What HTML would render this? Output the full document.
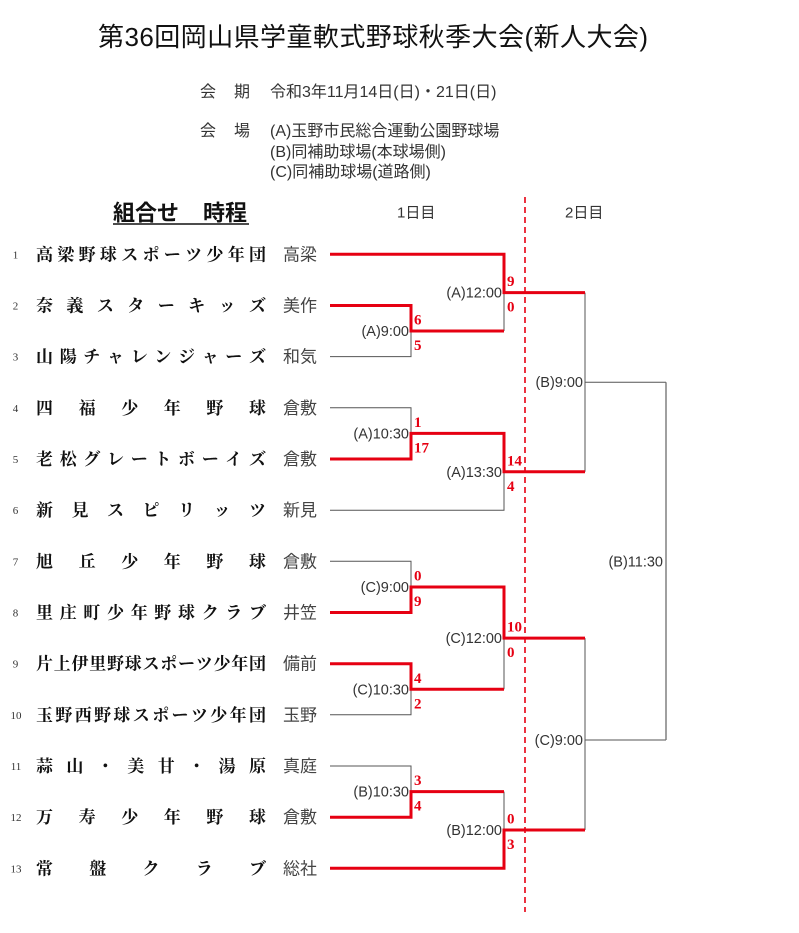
<!DOCTYPE html>
<html>
<head>
<meta charset="utf-8">
<style>
  html,body{margin:0;padding:0;background:#fff;}
  body{width:799px;height:933px;overflow:hidden;}
  svg{display:block;}
  .title{font-family:"Liberation Sans","Noto Sans CJK JP",sans-serif;font-size:26px;fill:#111;}
  .hd{font-family:"Liberation Sans","Noto Sans CJK JP",sans-serif;font-size:16px;fill:#333;}
  .team{font-family:"Liberation Serif","Noto Serif CJK SC",serif;font-size:17px;font-weight:bold;fill:#111;}
  .reg{font-family:"Liberation Sans","Noto Sans CJK JP",sans-serif;font-size:17px;fill:#444;}
  .num{font-family:"Liberation Serif",serif;font-size:11px;fill:#333;}
  .tm{font-family:"Liberation Sans","Noto Sans CJK JP",sans-serif;font-size:14.5px;fill:#333;}
  .sc{font-family:"Liberation Serif",serif;font-size:15px;font-weight:bold;fill:#e60012;}
  .sub{font-family:"Liberation Sans","Noto Sans CJK JP",sans-serif;font-size:22px;font-weight:bold;fill:#111;}
  .day{font-family:"Liberation Sans","Noto Sans CJK JP",sans-serif;font-size:15px;fill:#333;}
</style>
</head>
<body>
<svg width="799" height="933" viewBox="0 0 799 933" xmlns="http://www.w3.org/2000/svg">
  <!-- Title -->
  <text class="title" x="98" y="46" textLength="550" lengthAdjust="spacing">第36回岡山県学童軟式野球秋季大会(新人大会)</text>

  <!-- Header info -->
  <text class="hd" x="200" y="97">会</text>
  <text class="hd" x="234" y="97">期</text>
  <text class="hd" x="270" y="97">令和3年11月14日(日)・21日(日)</text>
  <text class="hd" x="200" y="136">会</text>
  <text class="hd" x="234" y="136">場</text>
  <text class="hd" x="270" y="136">(A)玉野市民総合運動公園野球場</text>
  <text class="hd" x="270" y="157">(B)同補助球場(本球場側)</text>
  <text class="hd" x="270" y="177">(C)同補助球場(道路側)</text>

  <!-- Subheading -->
  <text class="sub" x="113" y="220.5">組合せ</text>
  <text class="sub" x="203" y="220.5">時程</text>
  <line x1="113" y1="224" x2="249" y2="224" stroke="#111" stroke-width="1.5"/>
  <text class="day" x="397" y="217.5">1日目</text>
  <text class="day" x="565" y="217.5">2日目</text>

  <!-- Dashed divider -->
  <line x1="525" y1="197" x2="525" y2="912" stroke="#e60012" stroke-width="1.6" stroke-dasharray="6 4"/>

  <!-- Numbers -->
  <g class="num" text-anchor="middle">
    <text x="15.5" y="258.3">1</text>
    <text x="15.5" y="309.5">2</text>
    <text x="15.5" y="360.6">3</text>
    <text x="15.5" y="411.8">4</text>
    <text x="15.5" y="463">5</text>
    <text x="15.5" y="514.2">6</text>
    <text x="15.5" y="565.3">7</text>
    <text x="15.5" y="616.5">8</text>
    <text x="15.5" y="667.7">9</text>
    <text x="16" y="718.8">10</text>
    <text x="16" y="770">11</text>
    <text x="16" y="821.2">12</text>
    <text x="16" y="872.3">13</text>
  </g>

  <!-- Team names -->
  <g class="team">
    <text x="36 57.3 78.6 99.9 121.2 142.5 163.8 185.1 206.4 227.7 249" y="260.3">高梁野球スポーツ少年団</text>
    <text x="36 66.4 96.9 127.3 157.7 188.1 218.6 249" y="311.5">奈義スターキッズ</text>
    <text x="36 59.7 83.3 107 130.7 154.3 178 201.7 225.3 249" y="362.6">山陽チャレンジャーズ</text>
    <text x="36 78.6 121.2 163.8 206.4 249" y="413.8">四福少年野球</text>
    <text x="36 59.7 83.3 107 130.7 154.3 178 201.7 225.3 249" y="465">老松グレートボーイズ</text>
    <text x="36 71.5 107 142.5 178 213.5 249" y="516.2">新見スピリッツ</text>
    <text x="36 78.6 121.2 163.8 206.4 249" y="567.3">旭丘少年野球</text>
    <text x="36 59.7 83.3 107 130.7 154.3 178 201.7 225.3 249" y="618.5">里庄町少年野球クラブ</text>
    <text x="36 53.75 71.5 89.25 107 124.75 142.5 160.25 178 195.75 213.5 231.25 249" y="669.7">片上伊里野球スポーツ少年団</text>
    <text x="36 55.4 74.7 94.1 113.4 132.8 152.2 171.5 190.9 210.3 229.6 249" y="720.8">玉野西野球スポーツ少年団</text>
    <text x="36 66.4 96.9 127.3 157.7 188.1 218.6 249" y="772">蒜山・美甘・湯原</text>
    <text x="36 78.6 121.2 163.8 206.4 249" y="823.2">万寿少年野球</text>
    <text x="36 89.25 142.5 195.75 249" y="874.3">常盤クラブ</text>
  </g>

  <!-- Regions -->
  <g class="reg">
    <text x="283" y="260.3">高梁</text>
    <text x="283" y="311.5">美作</text>
    <text x="283" y="362.6">和気</text>
    <text x="283" y="413.8">倉敷</text>
    <text x="283" y="465">倉敷</text>
    <text x="283" y="516.2">新見</text>
    <text x="283" y="567.3">倉敷</text>
    <text x="283" y="618.5">井笠</text>
    <text x="283" y="669.7">備前</text>
    <text x="283" y="720.8">玉野</text>
    <text x="283" y="772">真庭</text>
    <text x="283" y="823.2">倉敷</text>
    <text x="283" y="874.3">総社</text>
  </g>

  <!-- Thin bracket lines -->
  <g fill="none" stroke="#555" stroke-width="1">
    <path d="M330 356.6 H411 V331"/>
    <path d="M330 407.8 H411 V433.4"/>
    <path d="M330 510.2 H504 V471.8"/>
    <path d="M330 561.3 H411 V587"/>
    <path d="M330 714.8 H411 V689.3"/>
    <path d="M330 766 H411 V791.6"/>
    <path d="M504 292.6 V331"/>
    <path d="M504 638.1 V689.3"/>
    <path d="M504 791.6 V830"/>
    <path d="M585 292.6 V471.8"/>
    <path d="M585 382.2 H666"/>
    <path d="M585 638.1 V830"/>
    <path d="M585 740 H666"/>
  </g>
  <path d="M666 382.2 V740" fill="none" stroke="#777" stroke-width="1.4"/>

  <!-- Red winner lines -->
  <g fill="none" stroke="#e60012" stroke-width="3" stroke-linejoin="miter">
    <path d="M330 254.3 H504 V292.6 H585"/>
    <path d="M330 305.5 H411 V331 H504"/>
    <path d="M330 459 H411 V433.4 H504 V471.8 H585"/>
    <path d="M330 612.5 H411 V587 H504 V638.1 H585"/>
    <path d="M330 663.7 H411 V689.3 H504"/>
    <path d="M330 817.2 H411 V791.6 H504"/>
    <path d="M330 868.3 H504 V830 H585"/>
  </g>

  <!-- Time labels -->
  <g class="tm" text-anchor="end">
    <text x="409" y="336">(A)9:00</text>
    <text x="502" y="297.6">(A)12:00</text>
    <text x="409" y="438.4">(A)10:30</text>
    <text x="502" y="476.8">(A)13:30</text>
    <text x="583" y="387.2">(B)9:00</text>
    <text x="409" y="592">(C)9:00</text>
    <text x="409" y="694.3">(C)10:30</text>
    <text x="502" y="643.1">(C)12:00</text>
    <text x="409" y="796.6">(B)10:30</text>
    <text x="502" y="835">(B)12:00</text>
    <text x="583" y="745">(C)9:00</text>
    <text x="663" y="566.5">(B)11:30</text>
  </g>

  <!-- Scores -->
  <g class="sc">
    <text x="414" y="324.5">6</text>
    <text x="414" y="350">5</text>
    <text x="507" y="286">9</text>
    <text x="507" y="311.6">0</text>
    <text x="414" y="426.9">1</text>
    <text x="414" y="452.4">17</text>
    <text x="507" y="465.3">14</text>
    <text x="507" y="490.8">4</text>
    <text x="414" y="580.5">0</text>
    <text x="414" y="606">9</text>
    <text x="414" y="682.8">4</text>
    <text x="414" y="708.3">2</text>
    <text x="507" y="631.6">10</text>
    <text x="507" y="657.1">0</text>
    <text x="414" y="785.1">3</text>
    <text x="414" y="810.6">4</text>
    <text x="507" y="823.5">0</text>
    <text x="507" y="849">3</text>
  </g>
</svg>
</body>
</html>
